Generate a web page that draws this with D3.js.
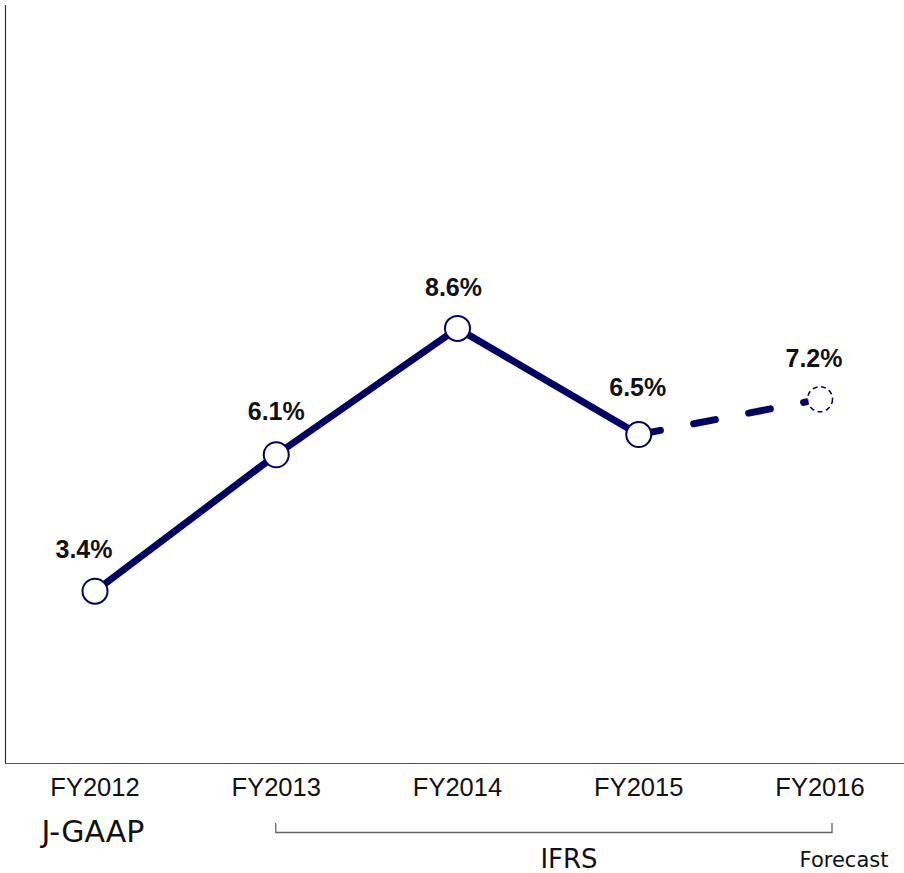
<!DOCTYPE html>
<html><head><meta charset="utf-8">
<script src="https://cdn.jsdelivr.net/npm/d3@7"></script>
<style>body{margin:0;background:#fff}</style>
</head><body>
<script>
const categories = ["FY2012","FY2013","FY2014","FY2015","FY2016"];
const values = [3.4, 6.1, 8.6, 6.5, 7.2];
const labels = ["3.4%","6.1%","8.6%","6.5%","7.2%"];
const forecastIndex = 4;

const W = 904, H = 873;
const svg = d3.select("body").append("svg").attr("width", W).attr("height", H);
const navy = "#000066";

const x = d3.scalePoint().domain(categories).range([95, 820]);
const y = d3.scaleLinear().domain([0, 15]).range([763, 5]);

// axes lines
svg.append("line").attr("x1", 5.5).attr("x2", 5.5).attr("y1", 5).attr("y2", 763)
  .attr("stroke", "#333").attr("stroke-width", 1.2);
svg.append("line").attr("x1", 5).attr("x2", W).attr("y1", 763.5).attr("y2", 763.5)
  .attr("stroke", "#555").attr("stroke-width", 1.2);

const pts = categories.map((c, i) => ({c, v: values[i], l: labels[i], i}));
const actual = pts.filter(d => d.i < forecastIndex);
const fc = pts.filter(d => d.i >= forecastIndex - 1);

const line = d3.line().x(d => x(d.c)).y(d => y(d.v));
svg.append("path").datum(actual).attr("d", line).attr("fill", "none")
  .attr("stroke", navy).attr("stroke-width", 7).attr("stroke-linejoin", "round");
svg.append("path").datum(fc).attr("d", line).attr("fill", "none")
  .attr("stroke", navy).attr("stroke-width", 7).attr("stroke-linecap", "round")
  .attr("stroke-dasharray", "22 34");

svg.selectAll("circle.pt").data(pts).join("circle")
  .attr("cx", d => x(d.c)).attr("cy", d => y(d.v)).attr("r", 12.5)
  .attr("fill", "#fff").attr("stroke", navy)
  .attr("stroke-width", d => d.i >= forecastIndex ? 1.5 : 2)
  .attr("stroke-dasharray", d => d.i >= forecastIndex ? "5 3.5" : null);

const dxs = [-11, 0, -4, -1, -6];
const dys = [-33, -35, -32, -39, -32];
svg.selectAll("text.lbl").data(pts).join("text")
  .attr("x", d => x(d.c) + dxs[d.i]).attr("y", d => y(d.v) + dys[d.i])
  .attr("text-anchor", "middle").attr("font-family", "Liberation Sans, Arial, sans-serif")
  .attr("font-weight", "bold").attr("font-size", 25).attr("fill", "#111").text(d => d.l);

// x axis tick labels
svg.selectAll("text.tick").data(categories).join("text")
  .attr("x", d => x(d)).attr("y", 796).attr("text-anchor", "middle")
  .attr("font-family", "Liberation Sans, Arial, sans-serif").attr("font-size", 25.5)
  .attr("fill", "#111").text(d => d);

svg.append("text").attr("x", 93).attr("y", 842).attr("text-anchor", "middle")
  .attr("font-family", "DejaVu Sans, sans-serif").attr("font-size", 30).attr("fill", "#111").text("J-GAAP");

// bracket
const bx1 = x("FY2013") - 0.5, bx2 = x("FY2016") + 12;
svg.append("path").attr("d", `M${bx1},823 V832.5 H${bx2} V823`).attr("fill", "none")
  .attr("stroke", "#666").attr("stroke-width", 1.3);

svg.append("text").attr("x", 569).attr("y", 868).attr("text-anchor", "middle")
  .attr("font-family", "DejaVu Sans, sans-serif").attr("font-size", 26).attr("fill", "#111").text("IFRS");
svg.append("text").attr("x", 844).attr("y", 867).attr("text-anchor", "middle")
  .attr("font-family", "DejaVu Sans, sans-serif").attr("font-size", 21).attr("fill", "#111").text("Forecast");
</script>
</body></html>
